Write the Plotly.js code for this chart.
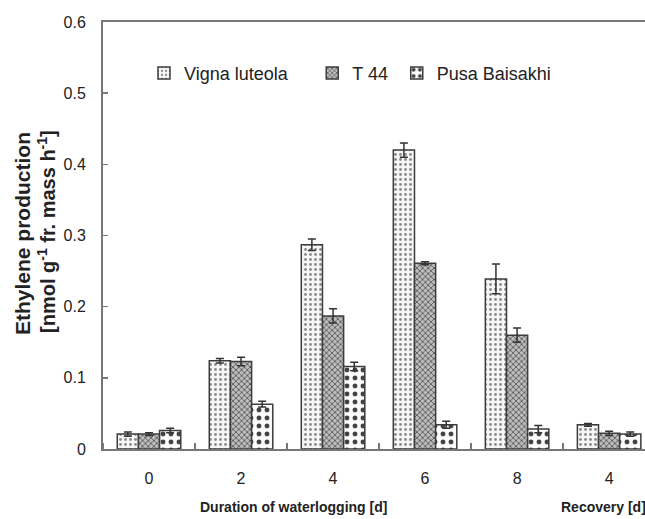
<!DOCTYPE html>
<html>
<head>
<meta charset="utf-8">
<script src="https://cdn.plot.ly/plotly-3.0.1.min.js"></script>
<style>html,body{margin:0;padding:0;background:#fff;}#chart{width:645px;height:519px;}</style>
</head>
<body>
<div id="chart"></div>
<script>
const categories = ['0', '2', '4', '6', '8', '4'];
const seriesNames = ['Vigna luteola', 'T 44', 'Pusa Baisakhi'];
const vigna = [0.021, 0.124, 0.287, 0.420, 0.239, 0.034];
const vignaErr = [0.003, 0.003, 0.008, 0.010, 0.021, 0.002];
const t44 = [0.021, 0.123, 0.187, 0.261, 0.160, 0.022];
const t44Err = [0.002, 0.006, 0.010, 0.002, 0.010, 0.003];
const pusa = [0.026, 0.063, 0.116, 0.034, 0.028, 0.021];
const pusaErr = [0.003, 0.004, 0.006, 0.005, 0.005, 0.003];
const yTicks = [0, 0.1, 0.2, 0.3, 0.4, 0.5, 0.6];
const yTickText = ['0', '0.1', '0.2', '0.3', '0.4', '0.5', '0.6'];

const xIdx = categories.map((_, i) => i);
const styles = [
  {shape: '.', fg: '#8a8a8a', bg: '#f6f6f6', size: 5, sol: 0.25, legend: 'legend'},
  {shape: 'x', fg: '#4a4a4a', bg: '#bdbdbd', size: 4, sol: 0.35, legend: 'legend2'},
  {shape: '.', fg: '#444444', bg: '#ffffff', size: 8, sol: 0.3, legend: 'legend3'}
];
const vals = [vigna, t44, pusa];
const errs = [vignaErr, t44Err, pusaErr];
const traces = vals.map((v, k) => ({
  type: 'bar', x: xIdx, y: v, name: seriesNames[k], legend: styles[k].legend, showlegend: true,
  marker: {color: styles[k].bg, line: {color: '#3c3c3c', width: 1.5},
    pattern: {shape: styles[k].shape, fgcolor: styles[k].fg, bgcolor: styles[k].bg, size: styles[k].size, solidity: styles[k].sol}},
  error_y: {type: 'data', array: errs[k], visible: true, color: '#333', thickness: 1.5, width: 4}
}));

const legendFont = {family: 'Liberation Sans, Arial, sans-serif', size: 18, color: '#222'};
const lg = (x) => ({x: x, y: 0.88, xanchor: 'left', yanchor: 'middle', orientation: 'h', font: legendFont, bgcolor: 'rgba(0,0,0,0)', itemwidth: 30, tracegroupgap: 0, visible: true});

const layout = {
  width: 645, height: 519,
  margin: {l: 103, r: 0, t: 22, b: 70},
  paper_bgcolor: '#fff', plot_bgcolor: '#fff',
  showlegend: true,
  barmode: 'group', bargap: 0.31, bargroupgap: 0,
  font: {family: 'Liberation Sans, Arial, sans-serif', color: '#222'},
  legend: lg(0.0756), legend2: lg(0.386), legend3: lg(0.542),
  xaxis: {range: [-0.5, 5.39], tickmode: 'array', tickvals: xIdx, ticktext: categories,
    ticks: '', showline: true, linecolor: '#777', linewidth: 2, mirror: true, showgrid: false, zeroline: false,
    tickfont: {size: 16, family: 'Liberation Sans, Arial, sans-serif', color: '#222'},
    minor: {tick0: 0.5, dtick: 1, ticks: 'inside', ticklen: 6, tickcolor: '#777', tickwidth: 1.5},
    ticklabelstandoff: 14},
  yaxis: {range: [0, 0.6], tickmode: 'array', tickvals: yTicks, ticktext: yTickText,
    ticks: 'inside', ticklen: 5, tickcolor: '#777', tickwidth: 1.5,
    showline: true, linecolor: '#777', linewidth: 2, showgrid: false, zeroline: false,
    tickfont: {size: 16, family: 'Liberation Sans, Arial, sans-serif', color: '#222'},
    ticklabelstandoff: 12},
  annotations: [
    {text: '<b>Ethylene production</b>', xref: 'paper', yref: 'paper', x: -81 / 542, y: (449 - 234) / 427, textangle: -90,
      showarrow: false, xanchor: 'center', yanchor: 'middle', font: {size: 21, color: '#222'}},
    {text: '<b>[nmol g<sup>-1</sup> fr. mass h<sup>-1</sup>]</b>', xref: 'paper', yref: 'paper', x: -57 / 542, y: (449 - 232) / 427, textangle: -90,
      showarrow: false, xanchor: 'center', yanchor: 'middle', font: {size: 20, color: '#222'}},
    {text: '<b>Duration of waterlogging [d]</b>', xref: 'paper', yref: 'paper', x: (293 - 103) / 542, y: -58 / 427,
      showarrow: false, xanchor: 'center', yanchor: 'middle', font: {size: 14, family: 'Liberation Sans Narrow, Arial Narrow, sans-serif', color: '#222'}},
    {text: '<b>Recovery [d]</b>', xref: 'paper', yref: 'paper', x: (559 - 103) / 542, y: -58 / 427,
      showarrow: false, xanchor: 'left', yanchor: 'middle', font: {size: 14, family: 'Liberation Sans Narrow, Arial Narrow, sans-serif', color: '#222'}}
  ]
};
Plotly.newPlot('chart', traces, layout, {displayModeBar: false, staticPlot: true});
</script>
</body>
</html>
